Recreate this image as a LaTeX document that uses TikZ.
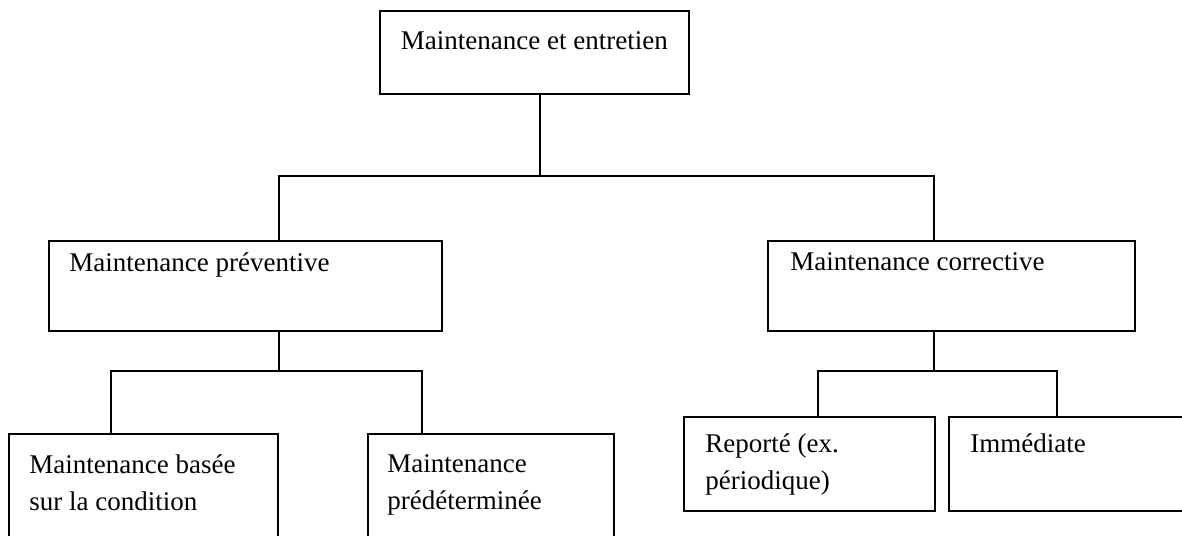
\documentclass[tikz,border=0pt]{standalone}
\usepackage{fontspec}
\setmainfont{Liberation Serif}
\usetikzlibrary{positioning}

\begin{document}
\begin{tikzpicture}[
    x=0.5pt, y=-0.5pt,
    font=\fontsize{13.5pt}{18.5pt}\selectfont,
    box/.style={rectangle, draw=black, line width=0.9pt, inner sep=0pt, anchor=north west},
    boxtext/.style={inner sep=0pt, align=left},
    link/.style={draw=black, line width=0.9pt}
]
\clip (0,0) rectangle (1182,535);

\node (main) [box, minimum width=154.5pt, minimum height=41.5pt] at (379,10) {};
\node (prev) [box, minimum width=196.5pt, minimum height=45pt] at (48,240) {};
\node (corr) [box, minimum width=183.5pt, minimum height=45pt] at (767,240) {};
\node (base) [box, minimum width=134.5pt, minimum height=60pt] at (8,433) {};
\node (pred) [box, minimum width=123pt, minimum height=60pt] at (367,433) {};
\node (rep) [box, minimum width=125.5pt, minimum height=47pt] at (683,416) {};
\node (imm) [box, minimum width=126pt, minimum height=47pt] at (948,416) {};

\node (maintxt) [boxtext, below=10.5pt of main.north] {Maintenance et entretien};
\node (prevtxt) [boxtext, below right=6pt and 10.5pt of prev.north west] {Maintenance préventive};
\node (corrtxt) [boxtext, below right=6pt and 11.5pt of corr.north west] {Maintenance corrective};
\node (basetxt) [boxtext, below right=10.5pt and 10.5pt of base.north west] {Maintenance basée\\sur la condition};
\node (predtxt) [boxtext, below right=10.5pt and 10pt of pred.north west] {Maintenance\\prédéterminée};
\node (reptxt) [boxtext, below right=8.7pt and 11pt of rep.north west] {Reporté (ex.\\périodique)};
\node (immtxt) [boxtext, below right=8.7pt and 11pt of imm.north west] {Immédiate};

\draw [link] ([xshift=2.75pt]main.south) -- ++(0,81) -| ([xshift=16.75pt]prev.north);
\draw [link] ([xshift=2.75pt]main.south) -- ++(0,81) -| ([xshift=-8.75pt]corr.north);
\draw [link] ([xshift=16.75pt]prev.south) -- ++(0,39) -| ([xshift=-16.25pt]base.north);
\draw [link] ([xshift=16.75pt]prev.south) -- ++(0,39) -| ([xshift=-34.5pt]pred.north);
\draw [link] ([xshift=-8.75pt]corr.south) -- ++(0,39) -| ([xshift=4.25pt]rep.north);
\draw [link] ([xshift=-8.75pt]corr.south) -- ++(0,39) -| ([xshift=-9pt]imm.north);

\end{tikzpicture}
\end{document}
